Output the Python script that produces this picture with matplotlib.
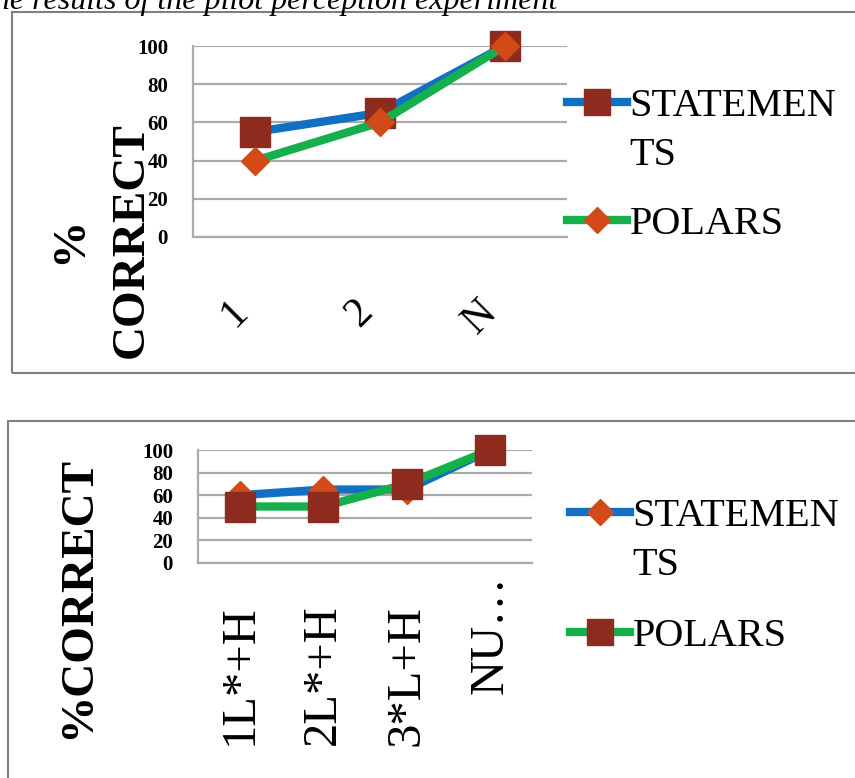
import matplotlib
matplotlib.use('Agg')
import matplotlib.pyplot as plt
from matplotlib.lines import Line2D
from matplotlib.patches import Rectangle
from matplotlib import rcParams

rcParams['font.family'] = 'Liberation Serif'

# data
top_cats = ['1', '2', 'N']
top_statements = [55, 65, 100]
top_polars = [40, 60, 100]

bot_cats = ['1L*+H', '2L*+H', '3*L+H', 'NU…']
bot_statements = [60, 65, 65, 100]
bot_polars = [50, 50, 70, 100]

yticks = [0, 20, 40, 60, 80, 100]
caption = 'the results of the pilot perception experiment'

BLUE = '#1170C4'
GREEN = '#15B04C'
BROWN = '#8E2B1F'
ORANGE = '#D24A17'
GRID = '#ABABAB'

W, H = 855, 778


def fx(px):
    return px / W


def fy(py):
    return 1 - py / H


def style_axes(ax, n):
    ax.set_xlim(-0.5, n - 0.5)
    ax.set_ylim(0, 100)
    ax.set_yticks(yticks)
    ax.yaxis.grid(True, color=GRID, lw=1.6)
    ax.set_axisbelow(True)
    for s in ['top', 'right']:
        ax.spines[s].set_visible(False)
    for s in ['left', 'bottom']:
        ax.spines[s].set_color(GRID)
        ax.spines[s].set_linewidth(1.6)
    ax.tick_params(length=0)
    ax.tick_params(axis='y', pad=18, labelsize=15)
    for t in ax.get_yticklabels():
        t.set_fontweight('bold')


def add_legend(handles, labels, x_px, y_px):
    # one legend per block so the gaps can follow the screenshot
    fig.legend(handles, labels, loc='upper left',
               bbox_to_anchor=(fx(x_px), fy(y_px)), frameon=False,
               fontsize=29, handlelength=1.5, handletextpad=0.05,
               borderpad=0, borderaxespad=0, labelspacing=0.3)


fig = plt.figure(figsize=(W / 100, H / 100), dpi=100)

# panel frames (cut off at the right / bottom like the screenshot)
fig.patches.append(Rectangle((fx(12), fy(373)), 1.0, fy(12) - fy(373),
                             transform=fig.transFigure, fill=False,
                             ec='#7F7F7F', lw=1.5))
fig.patches.append(Rectangle((fx(8), fy(421) - 1.0), 1.0, 1.0,
                             transform=fig.transFigure, fill=False,
                             ec='#7F7F7F', lw=1.5))

fig.text(fx(-15), fy(9), caption, fontsize=23, style='italic', va='baseline')

blank = Line2D([], [], color='none')

# ---- top chart
ax1 = fig.add_axes([fx(193), fy(237), fx(567) - fx(193), fy(46) - fy(237)])
x1 = range(len(top_cats))
ax1.plot(x1, top_statements, color=BLUE, lw=6, marker='s', ms=21,
         mfc=BROWN, mec=BROWN, clip_on=False, solid_capstyle='round')
ax1.plot(x1, top_polars, color=GREEN, lw=6, marker='D', ms=14.5,
         mfc=ORANGE, mec=ORANGE, clip_on=False, solid_capstyle='round')
style_axes(ax1, len(top_cats))
ax1.set_xticks(list(x1))
ax1.set_xticklabels(top_cats, rotation=45, ha='right', va='top', fontsize=30)
ax1.tick_params(axis='x', pad=40)
ax1.set_ylabel('%\nCORRECT', fontsize=34, fontweight='bold', ha='center',
               va='center', linespacing=1.6)
ax1.yaxis.set_label_coords(-0.246, -0.016)

h_stat = Line2D([], [], color=BLUE, lw=6, marker='s', ms=19, mfc=BROWN, mec=BROWN)
h_pol = Line2D([], [], color=GREEN, lw=6, marker='D', ms=13, mfc=ORANGE, mec=ORANGE)
add_legend([h_stat, blank], ['STATEMEN', 'TS'], 567, 88)
add_legend([h_pol], ['POLARS'], 567, 206)

# ---- bottom chart
ax2 = fig.add_axes([fx(198), fy(563), fx(532) - fx(198), fy(450) - fy(563)])
x2 = range(len(bot_cats))
ax2.plot(x2, bot_statements, color=BLUE, lw=6, marker='D', ms=14.5,
         mfc=ORANGE, mec=ORANGE, clip_on=False, solid_capstyle='round')
ax2.plot(x2, bot_polars, color=GREEN, lw=6, marker='s', ms=21,
         mfc=BROWN, mec=BROWN, clip_on=False, solid_capstyle='round')
style_axes(ax2, len(bot_cats))
ax2.set_xticks(list(x2))
ax2.set_xticklabels(bot_cats, rotation=90, ha='center', va='top', fontsize=35)
ax2.tick_params(axis='x', pad=30)
ax2.xaxis.get_major_ticks()[3].set_pad(9)
ax2.set_ylabel('%CORRECT', fontsize=34, fontweight='bold', ha='center', va='center')
ax2.yaxis.set_label_coords(-0.359, -0.301)

h_stat2 = Line2D([], [], color=BLUE, lw=6, marker='D', ms=13, mfc=ORANGE, mec=ORANGE)
h_pol2 = Line2D([], [], color=GREEN, lw=6, marker='s', ms=19, mfc=BROWN, mec=BROWN)
add_legend([h_stat2, blank], ['STATEMEN', 'TS'], 570, 498)
add_legend([h_pol2], ['POLARS'], 570, 618)

fig.savefig('out.png', dpi=100)
